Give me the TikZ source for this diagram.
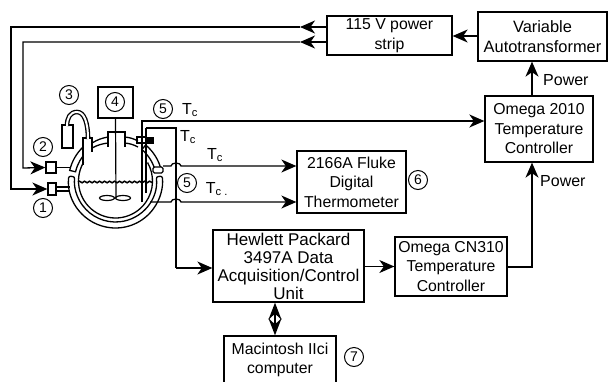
\documentclass[tikz,border=0pt]{standalone}
\usepackage{fontspec}
\setmainfont{Liberation Sans}
\usetikzlibrary{arrows.meta,calc,decorations.pathmorphing}
\tikzset{
  blockbox/.style={draw,line width=1.3pt,align=center,inner sep=0pt,font=\fontsize{15.8}{19.5}\selectfont},
  circnum/.style={circle,draw,line width=1pt,inner sep=0pt,minimum size=19pt,font=\fontsize{14}{14}\selectfont},
  tclabel/.style={inner sep=0pt,font=\fontsize{16}{16}\selectfont},
  portbox/.style={draw,fill=white,line width=1.3pt,inner sep=0pt},
  flow/.style={line width=1.3pt,-{Stealth[length=15pt,width=13pt,inset=4.5pt]}},
  wire/.style={line width=1.2pt},
  wall/.style={line width=1.3pt}
}
\begin{document}
\begin{tikzpicture}[x=1pt,y=-1pt]
\useasboundingbox (0,0) rectangle (608,381);
\node (strip) [blockbox,minimum width=125pt,minimum height=39pt] at (389.5,35.5) {115 V power\\strip};
\node (auto) [blockbox,font=\fontsize{16.4}{20}\selectfont,minimum width=129pt,minimum height=49pt] at (542.5,36.5) {Variable\\Autotransformer};
\node (omegatwo) [blockbox,minimum width=108pt,minimum height=66pt] at (539,129) {Omega 2010\\Temperature\\Controller};
\node (fluke) [blockbox,minimum width=109pt,minimum height=62pt] at (351.5,182) {2166A Fluke\\Digital\\Thermometer};
\node (hp) [blockbox,font=\fontsize{17}{18}\selectfont,minimum width=151pt,minimum height=72pt] at (288.5,266) {Hewlett Packard\\3497A Data\\Acquisition/Control\\Unit};
\node (cn) [blockbox,minimum width=112pt,minimum height=59pt] at (451,266.5) {Omega CN310\\Temperature\\Controller};
\node (mac) [blockbox,minimum width=112pt,minimum height=48pt] at (280,360) {Macintosh IIci\\computer};
\node (motor) [draw,line width=1.3pt,minimum width=35pt,minimum height=31pt,inner sep=0pt] at (115.5,102.5) {};
\node (bulb) [draw,fill=white,line width=1.3pt,minimum width=11pt,minimum height=23pt,inner sep=0pt] at (67.5,136.5) {};
\node (n3) [circnum] at (69,95) {3};
\node (n4) [circnum] at (115,102) {4};
\node (n5a) [circnum] at (163,109) {5};
\node (n2) [circnum] at (43,147) {2};
\node (n1) [circnum] at (43,208) {1};
\node (n5b) [circnum] at (187,183) {5};
\node (n6) [circnum] at (418,180) {6};
\node (n7) [circnum] at (354,357) {7};
\node (tca) [tclabel] at (190,110) {T\textsubscript{c}};
\node (tcb) [tclabel] at (188,137) {T\textsubscript{c}};
\node (tcc) [tclabel] at (215,155) {T\textsubscript{c}};
\node (tcd) [tclabel] at (217,189) {T\textsubscript{c .}};
\node (pwa) [tclabel,anchor=west] at (543,80) {Power};
\node (pwb) [tclabel,anchor=west] at (540,181) {Power};
% vessel
\coordinate (vc) at (115.5,181);
\draw[wall,rounded corners=2pt] ($(vc)+(186:47)$) arc (186:-6:47) -- ($(vc)+(-6:41)$) arc (-6:186:41) -- cycle;
\draw[wall] ($(vc)+(193:47)$) arc (193:226:47) -- ($(vc)+(226:41)$) arc (226:193:41) -- cycle;
\draw[wall] ($(vc)+(-14:47)$) arc (-14:-50:47) -- ($(vc)+(-50:41)$) arc (-50:-14:41) -- cycle;
\draw[wall] ($(vc)+(215:37)$) arc (215:-30:37);
\draw[wall,fill=white] (83,165) -- (83,138) -- (92,138) -- (92,152);
\draw[wall,fill=white] (108,147) -- (108,132) -- (125,132) -- (125,147);
\draw[wall] (92,143) to[bend left=10] (108,137) (92,148) to[bend left=10] (108,143);
\draw[wall] (125,137) to[bend left=10] (138,141) (125,143) to[bend left=10] (138,147);
\draw[line width=1.5pt,decorate,decoration={snake,amplitude=0.8pt,segment length=5pt}] (78,182) -- (152,182);
\draw[wire] (motor.south) -- (116,198);
\draw[wire] (107,198) ellipse (7.5 and 2.5);
\draw[wire] (123,198) ellipse (7.5 and 2.5);
\draw[wall] (137,137) rectangle (146,143);
\draw[line width=1pt,fill=black] (146,137) rectangle (153,143);
% condenser tube
\draw[line width=4.6pt] (88,139) .. controls (88,122) and (84,112) .. (77,112) .. controls (70,112) and (67,118) .. (67,126);
\draw[line width=2pt,white] (88,139) .. controls (88,122) and (84,112) .. (77,112) .. controls (70,112) and (67,118) .. (67,126);
% thermocouples
\coordinate (probea) at (142,202);
\coordinate (corna) at (142,121);
\coordinate (probeb) at (146,193);
\coordinate (cornb) at (146,128);
\coordinate (cornc) at (176,128);
\coordinate (cornd) at (176,268);
\coordinate (joina) at (163,166);
\coordinate (joinb) at (150,202);
\draw[flow,line width=1.5pt] (probea) -- (corna) -- (omegatwo.west |- corna);
\draw[line width=2.2pt] (probeb) -- (cornb);
\draw[wire] (cornb) -- (cornc) -- (cornd);
\draw[flow] (cornd) -- (hp.west |- cornd);
\node (port3) [portbox,rounded corners=1.5pt,minimum width=10pt,minimum height=6pt] at (158,170) {};
\draw[flow] (joina) -- (171,166) arc (180:360:5 and 3) -- (fluke.west |- joina);
\draw[flow] (joinb) -- (171,202) arc (180:360:5 and 3) -- (fluke.west |- joinb);
% power lines
\coordinate (mida) at (300,27);
\coordinate (midb) at (300,42);
\coordinate (corne) at (11,27);
\coordinate (cornf) at (11,189);
\coordinate (corng) at (23,42);
\coordinate (cornh) at (23,168);
\coordinate (cornk) at (532,267);
\node (port2) [portbox,minimum width=10pt,minimum height=11pt] at (51,167.5) {};
\node (port1) [portbox,minimum width=8pt,minimum height=12pt] at (52,189) {};
\draw[flow] ([yshift=8.5pt]strip.west) -- (mida);
\draw[flow] ([yshift=-6.5pt]strip.west) -- (midb);
\draw[flow] (mida) -- (corne) -- (cornf) -- (port1.west);
\draw[flow] (midb) -- (corng) -- (cornh) -- (port2.west);
\draw[wire] (port2.east) -- (70,167.5);
\draw[wire] ([yshift=2pt]port1.east) -- (70,187) ([yshift=-2pt]port1.east) -- (70,191);
\draw[flow] (auto.west |- 0,36) -- (strip.east |- 0,36);
\draw[flow] (cornk |- omegatwo.north) -- (cornk |- auto.south);
\draw[flow] (cn.east |- cornk) -- (cornk) -- (cornk |- omegatwo.south);
\draw[flow] (hp.east |- cn.west) -- (cn.west);
\draw[line width=1.8pt,{Stealth[length=17pt,width=13pt,inset=6pt]}-{Stealth[length=17pt,width=13pt,inset=6pt]}] ([xshift=-5pt]mac.north |- hp.south) -- ([xshift=-5pt]mac.north);
\end{tikzpicture}
\end{document}
